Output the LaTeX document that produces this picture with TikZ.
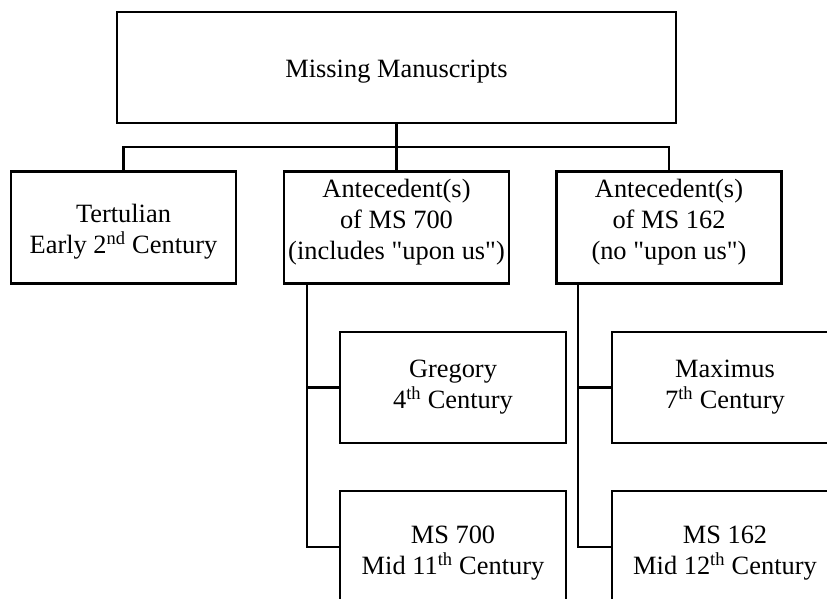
\documentclass[tikz,border=0pt]{standalone}
\usepackage{fontspec}
\setmainfont{Liberation Serif}
\usepackage{tikz}

\begin{document}
\begin{tikzpicture}[x=1pt,y=-1pt,line width=2.4pt,
  box/.style={draw,rectangle,inner sep=0pt,
    minimum width=225,minimum height=112},
  txt/.style={align=center,inner sep=0pt,
    font=\fontsize{26.4}{31}\selectfont},
  wire/.style={line width=2.4pt}]

%% page frame; the right column and the bottom row run past it
\useasboundingbox (0,0) rectangle (827,599);
\clip (0,0) rectangle (827,599);

%% ---------------- top ----------------
\node[box,minimum width=559,minimum height=111,
  label={[txt,yshift=-4pt]center:Missing Manuscripts}] (missing) at (396.5,67.5) {};

%% ---------------- first row ----------------
\node[box,label={[txt,yshift=-4pt]center:{Tertulian\\Early 2\textsuperscript{nd} Century}}]
  (tert) at (123.5,227.5) {};
\node[box,label={[txt,yshift=5pt]center:{Antecedent(s)\\of MS 700\\(includes \textquotedbl upon us\textquotedbl)}}]
  (ante700) at (396.5,227.5) {};
\node[box,label={[txt,yshift=5pt]center:{Antecedent(s)\\of MS 162\\(no \textquotedbl upon us\textquotedbl)}}]
  (ante162) at (669,227.5) {};

%% ---------------- second column rows ----------------
\node[box,minimum width=226,minimum height=111,
  label={[txt]center:{Gregory\\4\textsuperscript{th} Century}}] (gregory) at (453,387.5) {};
\node[box,minimum width=226,
  label={[txt,yshift=-6pt]center:{MS 700\\Mid 11\textsuperscript{th} Century}}] (ms700) at (453,547) {};
\node[box,minimum width=226,minimum height=111,
  label={[txt]center:{Maximus\\7\textsuperscript{th} Century}}] (maximus) at (725,387.5) {};
\node[box,minimum width=226,
  label={[txt,yshift=-6pt]center:{MS 162\\Mid 12\textsuperscript{th} Century}}] (ms162) at (725,547) {};

%% ---------------- connectors ----------------
\coordinate (barL) at (123.5,147);
\coordinate (barR) at (669,147);
\draw[wire] (missing.south) -- (ante700.north);
\draw[wire] (tert.north) -- (barL) -- (barR) -- (ante162.north);

%% trunks hang off the bottom of the antecedent boxes
\coordinate (trunk700) at (307,284);
\coordinate (trunk162) at (578,284);
\draw[wire] (trunk700) |- (ms700.west);
\draw[wire] (trunk700 |- gregory.west) -- (gregory.west);
\draw[wire] (trunk162) |- (ms162.west);
\draw[wire] (trunk162 |- maximus.west) -- (maximus.west);

\end{tikzpicture}
\end{document}
